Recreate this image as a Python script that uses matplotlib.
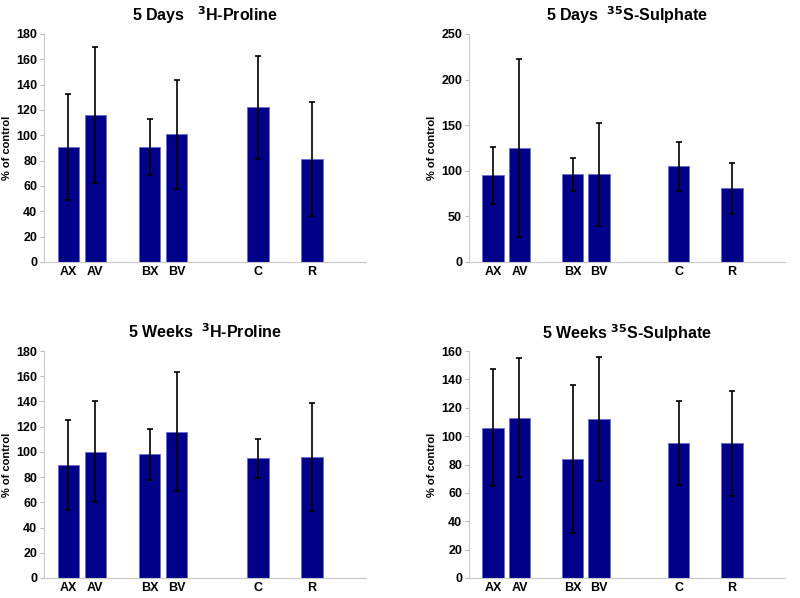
import numpy as np
import matplotlib.pyplot as plt

plt.rcParams['font.family'] = ['Liberation Sans', 'DejaVu Sans']
plt.rcParams['font.weight'] = 'bold'

groups = ['AX', 'AV', 'BX', 'BV', 'C', 'R']
positions = [1, 2, 4, 5, 8, 10]

# mean and error (+/-) for each panel
days_proline = [91, 116, 91, 101, 122, 81]
days_proline_err = [42, 54, 22, 43, 41, 45]
days_sulphate = [95, 125, 96, 96, 105, 81]
days_sulphate_err = [31, 98, 18, 56, 27, 28]
weeks_proline = [89.5, 100, 98, 116, 95, 96]
weeks_proline_err = [35.5, 40, 20.5, 47, 15.5, 43]
weeks_sulphate = [106, 113, 84, 112, 95, 95]
weeks_sulphate_err = [41.5, 42, 52, 43.5, 29.5, 37]

panels = [
    (days_proline, days_proline_err, r'5 Days   $\mathbf{^{3}}$H-Proline', 180, 20, [44, 366, 34, 262]),
    (days_sulphate, days_sulphate_err, r'5 Days  $\mathbf{^{35}}$S-Sulphate', 250, 50, [469, 785, 34, 262]),
    (weeks_proline, weeks_proline_err, r'5 Weeks  $\mathbf{^{3}}$H-Proline', 180, 20, [44, 366, 351, 578]),
    (weeks_sulphate, weeks_sulphate_err, r'5 Weeks $\mathbf{^{35}}$S-Sulphate', 160, 20, [469, 785, 351, 578]),
]

W, H = 800, 598
fig = plt.figure(figsize=(W / 100, H / 100), dpi=100)

for vals, errs, title, ymax, step, (x0, x1, yt, yb) in panels:
    ax = fig.add_axes([x0 / W, 1 - yb / H, (x1 - x0) / W, (yb - yt) / H])
    ax.bar(positions, vals, width=0.8, color='#000088', edgecolor='#6b6bd0', linewidth=0.6, zorder=2)
    ax.errorbar(positions, vals, yerr=errs, fmt='none', ecolor='black', elinewidth=1.2,
                capsize=2.5, capthick=1.2, zorder=3)
    ax.set_xlim(0.1, 12)
    ax.set_ylim(0, ymax)
    ax.set_yticks(np.arange(0, ymax + 1, step))
    ax.set_xticks(positions)
    ax.set_xticklabels(groups)
    ax.tick_params(axis='x', length=0, pad=3, labelsize=9)
    ax.tick_params(axis='y', length=3, width=0.8, color='#bbbbbb', labelsize=9, pad=2)
    for lab in ax.get_xticklabels() + ax.get_yticklabels():
        lab.set_fontweight('bold')
    for s in ['top', 'right']:
        ax.spines[s].set_visible(False)
    for s in ['left', 'bottom']:
        ax.spines[s].set_color('#c8c8c8')
        ax.spines[s].set_linewidth(0.8)
    ax.set_ylabel('% of control', fontsize=8, fontweight='bold', labelpad=3)
    ax.set_title(title, fontsize=11.5, fontweight='bold', pad=9)

fig.savefig('out.png', dpi=100)
